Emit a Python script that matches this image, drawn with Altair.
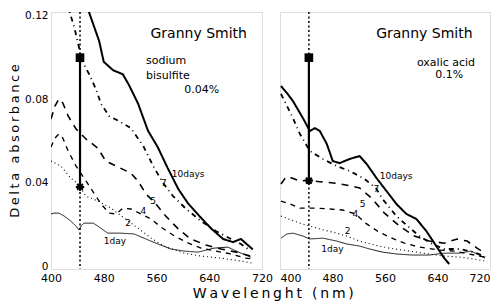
import altair as alt
import pandas as pd

LAMBDA = 444  # wavelength of the vertical marker line (nm)

# ---------------- Left panel: sodium bisulfite 0.04% ----------------
L10_nm = [453, 473, 480, 494, 509, 518, 532, 547, 562, 577, 593, 608, 628, 643, 661, 676, 688, 697, 706]
L10_A = [0.126, 0.108, 0.098, 0.094, 0.092, 0.087, 0.078, 0.065, 0.057, 0.047, 0.037, 0.030, 0.023, 0.018, 0.013, 0.0115, 0.013, 0.0105, 0.008]

L7_nm = [424, 435, 442, 445.5, 458, 468, 476, 488, 503, 521, 540, 555, 570, 585, 605, 627.5, 650, 673, 688, 703]
L7_A = [0.126, 0.115, 0.1056, 0.0994, 0.092, 0.085, 0.0778, 0.072, 0.0696, 0.0662, 0.0576, 0.048, 0.0398, 0.0336, 0.0274, 0.0216, 0.0168, 0.013, 0.0106, 0.0072]

L5_nm = [400, 406, 412, 418, 426, 438, 453, 471, 483, 502, 521, 532, 544, 559, 574, 593, 612, 635, 658, 681, 703]
L5_A = [0.0706, 0.0768, 0.0802, 0.0782, 0.072, 0.0658, 0.061, 0.0566, 0.0504, 0.0475, 0.0446, 0.0408, 0.0346, 0.0298, 0.024, 0.0178, 0.013, 0.0101, 0.0082, 0.0067, 0.0048]

L4_nm = [400, 406, 412, 418, 426, 438, 456, 465, 476, 488, 499, 509, 521, 536.5, 551.7, 566.8, 585, 604.7, 627.5, 650, 673, 695.7, 706]
L4_A = [0.0571, 0.0614, 0.0634, 0.0614, 0.0552, 0.048, 0.0394, 0.035, 0.0298, 0.0254, 0.025, 0.0278, 0.0274, 0.025, 0.0226, 0.0187, 0.0149, 0.0115, 0.0086, 0.0072, 0.0058, 0.0038, 0.0034]

L2_nm = [400, 415, 430, 441, 453, 471, 491, 511, 532, 552, 571, 602, 627.5, 658, 688, 706]
L2_A = [0.0504, 0.048, 0.0422, 0.0394, 0.0336, 0.0312, 0.0278, 0.023, 0.0182, 0.0134, 0.0096, 0.0062, 0.0048, 0.0038, 0.0024, 0.0014]

L1_nm = [400, 404.5, 412, 420, 430, 439.4, 442.5, 445.5, 450, 464, 471, 486, 506, 526, 541, 562, 582, 602, 623, 647, 668, 688, 703]
L1_A = [0.025, 0.0254, 0.0254, 0.024, 0.0216, 0.0187, 0.0173, 0.0192, 0.0206, 0.0206, 0.0192, 0.0158, 0.0158, 0.0154, 0.0134, 0.0106, 0.0082, 0.0072, 0.0067, 0.0086, 0.0091, 0.0062, 0.0043]

# ---------------- Right panel: oxalic acid 0.1% ----------------
R10_nm = [401.5, 410.6, 419.7, 434.9, 445.5, 453, 460.7, 471.3, 480.4, 491, 506.2, 521.3, 532, 547.1, 562.3, 577.4, 592.6, 607.8, 623, 638.1, 650.2, 657.8]
R10_A = [0.0864, 0.083, 0.0792, 0.071, 0.0648, 0.0662, 0.0648, 0.0586, 0.0504, 0.0494, 0.0514, 0.0528, 0.049, 0.0422, 0.036, 0.0298, 0.025, 0.0226, 0.0168, 0.0096, 0.0038, 0.001]

R7_nm = [401.5, 419.7, 430.3, 445.5, 465.2, 486.4, 506.2, 528.9, 547.1, 556.2, 577.4, 592.6, 612.3, 632, 650.2, 673, 688.2, 703.3, 712.4]
R7_A = [0.0826, 0.071, 0.0634, 0.0552, 0.0514, 0.048, 0.0456, 0.0418, 0.037, 0.0322, 0.024, 0.0197, 0.0144, 0.0106, 0.0082, 0.0082, 0.0072, 0.0058, 0.0043]

R5_nm = [401.5, 409.1, 418.2, 430.3, 442.5, 460.7, 491, 521.3, 539.5, 559.2, 582, 604.7, 627.5, 650.2, 670, 685.1, 700.3, 712.4]
R5_A = [0.0394, 0.0427, 0.0422, 0.0408, 0.0412, 0.0405, 0.0395, 0.0375, 0.0326, 0.0254, 0.0192, 0.0144, 0.012, 0.011, 0.013, 0.012, 0.0086, 0.0062]

R4_nm = [401.5, 415.2, 430.3, 456.1, 475.8, 495.5, 515.3, 530.4, 548.6, 566.8, 589.6, 612.3, 642.7, 665.4, 688.2, 712.4]
R4_A = [0.0312, 0.0298, 0.0278, 0.0278, 0.0274, 0.0269, 0.025, 0.0206, 0.0168, 0.0139, 0.011, 0.0091, 0.0077, 0.0072, 0.0058, 0.0043]

R2_nm = [401.5, 430.3, 460.7, 486.4, 501.6, 521.3, 544.1, 566.8, 597.2, 627.5, 650.2, 673, 695.7, 712.4]
R2_A = [0.024, 0.0206, 0.0178, 0.0158, 0.0144, 0.012, 0.0101, 0.0086, 0.0072, 0.0058, 0.0048, 0.0043, 0.0034, 0.0024]

R1_nm = [401.5, 410.6, 419.7, 434.9, 445.5, 465.2, 486.4, 501.6, 521.3, 536.5, 556.2, 577.4, 601.7, 627.5, 650.2, 673, 691.2, 703.3, 712.4]
R1_A = [0.0134, 0.0154, 0.0158, 0.0144, 0.0130, 0.0134, 0.012, 0.0106, 0.0096, 0.0082, 0.0067, 0.0058, 0.0053, 0.0053, 0.0062, 0.0062, 0.0072, 0.0053, 0.0038]

# markers at the vertical line
L_square, L_star = 0.100, 0.038
R_square, R_star = 0.100, 0.041

# curve labels
L_lab_text = ["10days", "7", "5", "4", "2", "1day"]
L_lab_nm = [608, 571, 555, 540, 517, 497]
L_lab_A = [0.0442, 0.0398, 0.0312, 0.0264, 0.0206, 0.012]
R_lab_text = ["10days", "7", "5", "4", "2", "1day"]
R_lab_nm = [577, 547, 526, 515, 503, 480]
R_lab_A = [0.0432, 0.037, 0.0298, 0.025, 0.0168, 0.0082]

DAY_ORDER = ["10", "7", "5", "4", "2", "1"]


def lines_df(series):
    rows = []
    for day, xs, ys in series:
        for x, y in zip(xs, ys):
            rows.append({"day": day, "nm": x, "A": y})
    return pd.DataFrame(rows)


left_df = lines_df([("10", L10_nm, L10_A), ("7", L7_nm, L7_A), ("5", L5_nm, L5_A),
                    ("4", L4_nm, L4_A), ("2", L2_nm, L2_A), ("1", L1_nm, L1_A)])
right_df = lines_df([("10", R10_nm, R10_A), ("7", R7_nm, R7_A), ("5", R5_nm, R5_A),
                     ("4", R4_nm, R4_A), ("2", R2_nm, R2_A), ("1", R1_nm, R1_A)])

XSCALE = alt.Scale(domain=[400, 720], nice=False, zero=False)
YSCALE = alt.Scale(domain=[-0.0014, 0.1219], nice=False, zero=False)
FONT = "DejaVu Sans"
ASTERISK = "M-1,0L1,0M0,-1L0,1M-0.7,-0.7L0.7,0.7M-0.7,0.7L0.7,-0.7"
THIN = "\u2009"


def panel(df, dashes, square_y, star_y, lab_text, lab_nm, lab_A, notes, show_y, width, flush):
    xaxis = alt.Axis(values=[400, 480, 560, 640, 720], title=None, labelFlush=flush,
                     ticks=False, domain=False, grid=False, labelFontSize=11,
                     labelFont=FONT, labelPadding=3, labelColor="black")
    if show_y:
        yaxis = alt.Axis(values=[0, 0.04, 0.08, 0.12], ticks=False, domain=False, grid=False,
                         labelExpr="datum.value == 0 ? '0' : format(datum.value, '.2f')",
                         labelFontSize=10.5, labelFont=FONT, labelPadding=3, labelColor="black",
                         title=THIN.join("Delta absorbance"), titleFont=FONT, titleFontSize=13,
                         titleFontWeight="normal", titlePadding=3, titleColor="black")
    else:
        yaxis = None

    lines = alt.Chart(df).mark_line(clip=True, color="black").encode(
        x=alt.X("nm:Q", scale=XSCALE, axis=xaxis),
        y=alt.Y("A:Q", scale=YSCALE, axis=yaxis),
        detail="day:N",
        strokeDash=alt.StrokeDash("day:N", scale=alt.Scale(domain=DAY_ORDER, range=dashes), legend=None),
        strokeWidth=alt.StrokeWidth("day:N", scale=alt.Scale(domain=DAY_ORDER, range=[2.0, 0.9, 0.9, 0.9, 1.1, 0.9]), legend=None),
    )

    vline = alt.Chart(pd.DataFrame({"nm": [LAMBDA]})).mark_rule(
        color="black", strokeDash=[2, 2.5], strokeWidth=1.5).encode(x="nm:Q")

    seg = alt.Chart(pd.DataFrame({"nm": [LAMBDA], "A": [star_y], "A2": [square_y]})).mark_rule(
        color="black", strokeWidth=2.2).encode(x="nm:Q", y="A:Q", y2="A2:Q")

    sq = alt.Chart(pd.DataFrame({"nm": [LAMBDA], "A": [square_y]})).mark_point(
        shape="square", filled=True, size=75, color="black", opacity=1).encode(x="nm:Q", y="A:Q")

    star = alt.Chart(pd.DataFrame({"nm": [LAMBDA], "A": [star_y]})).mark_point(
        shape=ASTERISK, filled=False, size=70, color="black", strokeWidth=2, opacity=1).encode(x="nm:Q", y="A:Q")

    labels = alt.Chart(pd.DataFrame({"nm": lab_nm, "A": lab_A, "t": lab_text})).mark_text(
        font=FONT, fontSize=9, color="black", baseline="middle", align="center").encode(
        x="nm:Q", y="A:Q", text="t:N")

    layers = [lines, vline, seg, sq, star, labels]
    for txt, nm, a, size, align in notes:
        layers.append(alt.Chart(pd.DataFrame({"nm": [nm], "A": [a], "t": [txt]})).mark_text(
            font=FONT, fontSize=size, color="black", baseline="middle", align=align).encode(
            x="nm:Q", y="A:Q", text="t:N"))

    return alt.layer(*layers).properties(width=width, height=257)


DASH_L = [[1, 0], [5, 4, 1, 4], [7, 6], [5, 5], [1, 3], [1, 0]]
DASH_R = [[1, 0], [5, 4, 1, 4], [6, 5], [5, 4, 1, 4], [1, 3], [1, 0]]

left_notes = [("Granny Smith", 624, 0.1114, 14, "center"),
              ("sodium", 544, 0.0984, 11, "left"),
              ("bisulfite", 544, 0.0912, 11, "left"),
              ("0.04%", 602, 0.0845, 11, "left")]
right_notes = [("Granny Smith", 620, 0.1114, 14, "center"),
               ("oxalic acid", 653, 0.0974, 11, "center"),
               ("0.1%", 658, 0.0917, 11, "center")]

left = panel(left_df, DASH_L, L_square, L_star, L_lab_text, L_lab_nm, L_lab_A, left_notes, True, 211, False)
right = panel(right_df, DASH_R, R_square, R_star, R_lab_text, R_lab_nm, R_lab_A, right_notes, False, 210, True)

chart = alt.hconcat(left, right, spacing=18, bounds="flush").properties(
    padding={"left": 0, "top": 2, "right": 0, "bottom": 0},
    title=alt.TitleParams(THIN.join("Wavelenght (nm)"), orient="bottom", anchor="middle",
                          font=FONT, fontSize=14, fontWeight="normal", color="black", offset=3, dx=24),
).configure_view(stroke="black", strokeWidth=1.3).configure(background="white")

chart.save("out.html", embed_options={"renderer": "svg", "actions": False})
